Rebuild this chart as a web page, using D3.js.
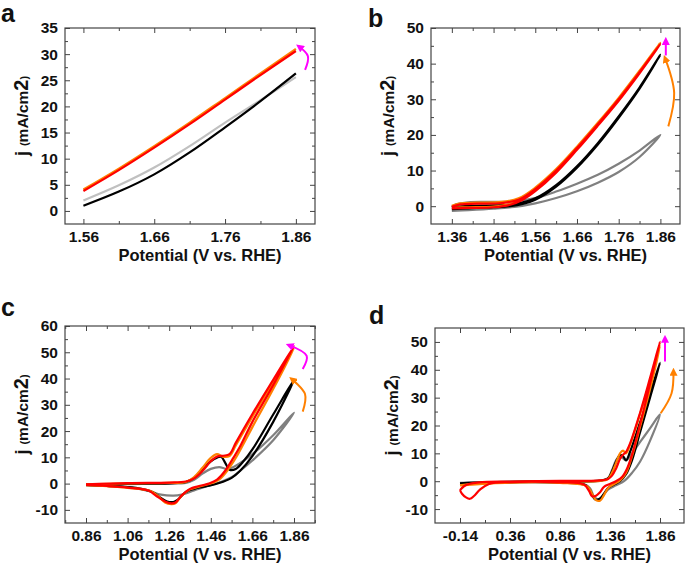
<!DOCTYPE html>
<html>
<head>
<meta charset="utf-8">
<script src="https://cdn.jsdelivr.net/npm/d3@7"></script>
<style>
  body { margin: 0; background: #fff; }
  svg { display: block; }
  text { font-family: "Liberation Sans", Arial, sans-serif; font-weight: bold; fill: #111; }
</style>
</head>
<body>
<svg id="chart"></svg>
<script>
// ---- data (potential V vs. RHE, current density mA/cm2) ----
// panel a
const aXTicks = [1.56, 1.66, 1.76, 1.86];
const aYTicks = [0, 5, 10, 15, 20, 25, 30, 35];
const aGray = [[1.56,2.0],[1.61,4.9],[1.66,8.3],[1.71,12.4],[1.76,16.9],[1.81,21.2],[1.86,25.6]];
const aBlack = [[1.56,1.0],[1.61,3.7],[1.66,7.0],[1.71,11.2],[1.76,16.0],[1.81,21.0],[1.86,26.3]];
const aOrange = [[1.56,4.1],[1.61,8.1],[1.66,12.4],[1.71,16.9],[1.76,21.6],[1.81,26.3],[1.86,31.0]];
const aRed = [[1.56,3.8],[1.61,7.8],[1.66,12.1],[1.71,16.6],[1.76,21.3],[1.81,26.0],[1.86,30.6]];
const aArrows = [{color: "#ff00ff", pts: [[1.873,27],[1.877,29.6],[1.864,31.5]]}];

// panel b
const bXTicks = [1.36, 1.46, 1.56, 1.66, 1.76, 1.86];
const bYTicks = [0, 10, 20, 30, 40, 50];
const bGray = [[1.36,-1.3],[1.40,-1.1],[1.46,-0.7],[1.51,-0.2],[1.56,0.8],[1.61,2.3],[1.66,4.2],[1.71,6.6],[1.76,9.6],[1.81,13.8],[1.86,20.0],
  [1.81,15.6],[1.76,11.9],[1.71,8.8],[1.66,6.3],[1.61,4.1],[1.56,2.3],[1.51,1.4],[1.46,1.2],[1.40,1.1],[1.37,0.5],[1.36,-0.2]];
const bBlack = [[1.36,-0.8],[1.40,-0.6],[1.46,-0.3],[1.50,0],[1.53,0.6],[1.56,1.8],[1.61,5.5],[1.66,10.8],[1.71,17.3],[1.76,24.8],[1.81,33.0],[1.86,42.5],
  [1.81,33.3],[1.76,25.2],[1.71,17.7],[1.66,11.2],[1.61,5.9],[1.56,2.2],[1.51,0.6],[1.46,0.2],[1.40,0.1],[1.36,-0.3]];
const bOrange = [[1.36,-0.4],[1.40,-0.3],[1.46,-0.1],[1.50,0.6],[1.53,2.1],[1.56,4.6],[1.61,9.8],[1.66,16.2],[1.71,23.0],[1.76,30.0],[1.81,37.7],[1.86,45.9],
  [1.81,38.0],[1.76,30.4],[1.71,23.4],[1.66,16.7],[1.61,10.4],[1.56,5.2],[1.52,2.2],[1.48,1.2],[1.42,1.0],[1.38,0.8],[1.36,0.1]];
const bRed = [[1.36,-0.6],[1.40,-0.5],[1.46,-0.3],[1.50,0.4],[1.53,1.8],[1.56,4.2],[1.61,9.4],[1.66,15.8],[1.71,22.6],[1.76,29.6],[1.81,37.3],[1.86,45.5],
  [1.81,37.6],[1.76,30.0],[1.71,23.0],[1.66,16.3],[1.61,10.0],[1.56,4.8],[1.52,1.8],[1.48,0.9],[1.42,0.7],[1.38,0.5],[1.36,-0.2]];
const bArrows = [
  {color: "#ff8000", pts: [[1.879,22.4],[1.893,31.8],[1.871,41.6]]},
  {color: "#ff00ff", pts: [[1.873,42.3],[1.873,44.5],[1.873,46.6]]}
];

// panel c
const cXTicks = [0.86, 1.06, 1.26, 1.46, 1.66, 1.86];
const cYTicks = [-10, 0, 10, 20, 30, 40, 50, 60];
const cGray = [[0.86,-0.4],[1.06,-0.2],[1.26,0],[1.34,0.3],[1.38,1.5],[1.42,3.8],[1.46,5.6],[1.50,6.3],[1.54,5.6],[1.58,6.8],[1.66,11.2],[1.76,18.4],[1.86,27],
  [1.76,16.5],[1.66,8.8],[1.60,4.8],[1.56,2.4],[1.50,0.4],[1.44,-1.0],[1.38,-2.6],[1.32,-4.2],[1.28,-4.6],[1.22,-4.2],[1.16,-2.8],[1.06,-1.4],[0.96,-0.9],[0.86,-0.5]];
const cBlack = [[0.86,-0.3],[1.06,-0.1],[1.26,0.1],[1.34,0.6],[1.38,2.2],[1.42,5.5],[1.46,8.5],[1.49,9.9],[1.51,10.2],[1.53,7.8],[1.55,5.3],[1.58,5.6],[1.62,8.8],[1.66,13.0],[1.76,26.3],[1.86,39.5],
  [1.76,23.5],[1.66,10.5],[1.60,4.8],[1.56,2.2],[1.50,0.2],[1.44,-1.0],[1.38,-2.0],[1.34,-3.2],[1.30,-6.2],[1.28,-7.0],[1.25,-6.8],[1.22,-5.5],[1.18,-3.2],[1.10,-1.6],[0.96,-0.9],[0.86,-0.6]];
const cOrange = [[0.86,-0.3],[1.06,0.1],[1.26,0.3],[1.34,0.6],[1.38,2.5],[1.42,6.0],[1.46,9.8],[1.49,11.2],[1.52,10.2],[1.55,10.5],[1.58,14.5],[1.66,25.5],[1.76,38.5],[1.86,51.5],
  [1.76,36.0],[1.66,21.5],[1.61,14.0],[1.585,10.4],[1.54,5.0],[1.50,1.5],[1.47,0.3],[1.41,-1.0],[1.36,-2.2],[1.32,-4.6],[1.29,-7.5],[1.27,-7.8],[1.24,-7.2],[1.21,-5.0],[1.17,-2.8],[1.06,-1.6],[0.96,-1.0],[0.86,-0.6]];
const cRed = [[0.86,-0.3],[1.06,0.2],[1.26,0.4],[1.34,0.8],[1.38,2.0],[1.42,4.8],[1.46,8.5],[1.49,10.3],[1.52,10.6],[1.55,11.2],[1.58,15.5],[1.66,26.5],[1.76,39.5],[1.86,52.3],
  [1.76,37.5],[1.66,23.5],[1.60,14.0],[1.57,10.0],[1.53,5.0],[1.49,1.5],[1.45,0],[1.40,-1.0],[1.36,-2.0],[1.32,-4.5],[1.29,-7.2],[1.27,-7.5],[1.24,-6.8],[1.20,-4.8],[1.16,-2.6],[1.06,-1.5],[0.96,-0.9],[0.86,-0.5]];
const cArrows = [
  {color: "#ff8000", pts: [[1.902,27.4],[1.913,34.1],[1.849,39.8]]},
  {color: "#ff00ff", pts: [[1.902,43.6],[1.921,48.6],[1.835,52.7]]}
];

// panel d
const dXTicks = [-0.14, 0.36, 0.86, 1.36, 1.86];
const dYTicks = [-10, 0, 10, 20, 30, 40, 50];
const dGray = [[-0.14,-0.6],[0.36,-0.2],[0.86,-0.1],[1.26,0.1],[1.34,1.0],[1.38,4.0],[1.42,7.5],[1.45,8.8],[1.48,8.5],[1.52,7.5],[1.56,9],[1.66,14],[1.76,19],[1.86,24],
  [1.76,14.5],[1.66,7],[1.58,3],[1.50,0],[1.42,-1.5],[1.34,-3],[1.28,-5.5],[1.24,-6.5],[1.20,-5.5],[1.16,-2.5],[1.10,-1],[0.86,-0.4],[0.36,-0.3],[-0.14,-0.6]];
const dBlack = [[-0.14,-0.8],[0.0,-0.5],[0.36,-0.2],[0.86,0],[1.26,0.2],[1.34,1.0],[1.38,3.5],[1.42,7.0],[1.46,9.3],[1.49,9.0],[1.52,7.5],[1.56,10.5],[1.66,21],[1.76,31.5],[1.86,42.5],
  [1.76,30],[1.66,17.5],[1.58,7.5],[1.52,2.5],[1.46,0],[1.40,-1.2],[1.34,-2.5],[1.30,-4.5],[1.26,-6.3],[1.21,-6.5],[1.17,-4],[1.12,-1.5],[0.86,-0.5],[0.36,-0.4],[-0.14,-0.8]];
const dOrange = [[-0.14,-1.5],[0.0,-0.9],[0.36,-0.3],[0.86,-0.1],[1.26,0.1],[1.34,0.8],[1.38,3.0],[1.42,6.5],[1.46,10.0],[1.49,11.0],[1.52,10.0],[1.56,13],[1.66,24],[1.76,36],[1.86,48.5],
  [1.76,33],[1.66,19.5],[1.58,9],[1.52,3],[1.46,0.3],[1.40,-1],[1.34,-2.5],[1.30,-5],[1.26,-7],[1.22,-6.8],[1.18,-4.5],[1.13,-1.8],[0.86,-0.6],[0.36,-0.5],[-0.14,-1.5]];
const dRed = [[-0.14,-3.2],[-0.10,-1.8],[-0.05,-1.0],[0.05,-0.4],[0.36,-0.1],[0.86,0.1],[1.26,0.3],[1.34,0.8],[1.38,2.0],[1.42,4.5],[1.46,8.0],[1.49,9.5],[1.52,10.5],[1.56,13.5],[1.66,24.5],[1.76,37],[1.86,50],
  [1.80,41],[1.72,29],[1.64,17.5],[1.58,9.5],[1.53,4.5],[1.48,1.5],[1.42,0],[1.36,-1],[1.30,-2],[1.26,-4],[1.22,-5.2],[1.18,-5.4],[1.15,-3.5],[1.10,-1.2],[0.86,-0.4],[0.36,-0.3],[0.15,-1.0],[0.06,-3.0],[0.0,-5.3],[-0.04,-6.3],[-0.08,-5.8],[-0.12,-4.5],[-0.14,-3.2]];
const dArrows = [
  {color: "#ff8000", pts: [[1.867,24.4],[1.975,31.5],[1.995,39.6]]},
  {color: "#ff00ff", pts: [[1.91,43.0],[1.91,47.0],[1.91,51.4]]}
];

// ---- layout ----
const W = 685, H = 568;
const panels = [
  {label: "a", left: 65, right: 315, top: 28, bottom: 224, lx: 1, ly: 22, xd: [1.534, 1.887], yd: [-2.5, 35],
   xt: aXTicks, yt: aYTicks, gray: "#c0c0c0", series: [aGray, aBlack, aOrange, aRed], arrows: aArrows},
  {label: "b", left: 431, right: 680, top: 28, bottom: 224, lx: 368, ly: 27, xd: [1.31, 1.907], yd: [-5, 50],
   xt: bXTicks, yt: bYTicks, gray: "#808080", series: [bGray, bBlack, bOrange, bRed], arrows: bArrows},
  {label: "c", left: 65, right: 315, top: 326, bottom: 523, lx: 1, ly: 316, xd: [0.759, 1.961], yd: [-15, 60],
   xt: cXTicks, yt: cYTicks, gray: "#808080", series: [cGray, cBlack, cOrange, cRed], arrows: cArrows},
  {label: "d", left: 435, right: 684, top: 328, bottom: 523, lx: 369, ly: 324, xd: [-0.39, 2.10], yd: [-15, 55],
   xt: dXTicks, yt: dYTicks, gray: "#808080", series: [dGray, dBlack, dOrange, dRed], arrows: dArrows}
];
const lineColors = [null, "#000000", "#ff8000", "#ff0000"];

const svg = d3.select("#chart").attr("width", W).attr("height", H);

// arrow heads
const defs = svg.append("defs");
["#ff8000", "#ff00ff"].forEach(function(c) {
  defs.append("marker")
    .attr("id", "head" + c.slice(1))
    .attr("viewBox", "0 0 10 10")
    .attr("refX", 6).attr("refY", 5)
    .attr("markerWidth", 8).attr("markerHeight", 8)
    .attr("markerUnits", "userSpaceOnUse")
    .attr("orient", "auto")
    .append("path").attr("d", "M0,0 L10,5 L0,10 z").attr("fill", c);
});

function midpoints(t) {
  const step = t[1] - t[0];
  const out = [];
  for (let i = -1; i < t.length; i++) out.push(t[0] + step * (i + 0.5));
  return out;
}

// plain hyphen for negatives, like the original figure
const fmtX = v => d3.format(".2f")(v).replace("\u2212", "-");
const fmtY = v => d3.format("d")(v).replace("\u2212", "-");

panels.forEach(function(p) {
  const x = d3.scaleLinear().domain(p.xd).range([p.left, p.right]);
  const y = d3.scaleLinear().domain(p.yd).range([p.bottom, p.top]);
  const g = svg.append("g");

  const xMinor = midpoints(p.xt).filter(v => v > p.xd[0] && v < p.xd[1]);
  const yMinor = midpoints(p.yt).filter(v => v > p.yd[0] && v < p.yd[1]);

  // bottom + left with labels, top + right mirrored, all ticks inward
  const axes = [
    {ax: d3.axisBottom(x).tickValues(p.xt).tickFormat(fmtX), tr: "translate(0," + p.bottom + ")", lab: true},
    {ax: d3.axisBottom(x).tickValues(xMinor).tickFormat(""), tr: "translate(0," + p.bottom + ")", minor: true},
    {ax: d3.axisTop(x).tickValues(p.xt).tickFormat(""), tr: "translate(0," + p.top + ")"},
    {ax: d3.axisTop(x).tickValues(xMinor).tickFormat(""), tr: "translate(0," + p.top + ")", minor: true},
    {ax: d3.axisLeft(y).tickValues(p.yt).tickFormat(fmtY), tr: "translate(" + p.left + ",0)", lab: true},
    {ax: d3.axisLeft(y).tickValues(yMinor).tickFormat(""), tr: "translate(" + p.left + ",0)", minor: true},
    {ax: d3.axisRight(y).tickValues(p.yt).tickFormat(""), tr: "translate(" + p.right + ",0)"},
    {ax: d3.axisRight(y).tickValues(yMinor).tickFormat(""), tr: "translate(" + p.right + ",0)", minor: true}
  ];
  axes.forEach(function(a) {
    a.ax.tickSizeInner(a.minor ? -3 : -5).tickSizeOuter(0).tickPadding(a.lab ? 7 : 0);
    const ag = g.append("g").attr("transform", a.tr).call(a.ax);
    ag.select(".domain").remove();
    ag.selectAll(".tick line").attr("stroke", "#444").attr("stroke-width", 1);
    ag.selectAll("text")
      .attr("font-size", 15.5)
      .attr("font-family", "'Liberation Sans', Arial, sans-serif")
      .attr("font-weight", "bold")
      .attr("fill", "#111");
  });

  g.append("rect")
    .attr("x", p.left).attr("y", p.top)
    .attr("width", p.right - p.left).attr("height", p.bottom - p.top)
    .attr("fill", "none").attr("stroke", "#444").attr("stroke-width", 1.2);

  const line = d3.line()
    .x(d => x(d[0])).y(d => y(d[1]))
    .curve(d3.curveCatmullRom.alpha(0.5));

  p.series.forEach(function(s, i) {
    g.append("path")
      .attr("d", line(s))
      .attr("fill", "none")
      .attr("stroke", i === 0 ? p.gray : lineColors[i])
      .attr("stroke-width", 2.2)
      .attr("stroke-linejoin", "round");
  });

  p.arrows.forEach(function(a) {
    g.append("path")
      .attr("d", line(a.pts))
      .attr("fill", "none")
      .attr("stroke", a.color)
      .attr("stroke-width", 2)
      .attr("marker-end", "url(#head" + a.color.slice(1) + ")");
  });

  // axis titles
  g.append("text")
    .attr("x", (p.left + p.right) / 2 + 10)
    .attr("y", p.bottom + 37)
    .attr("text-anchor", "middle")
    .attr("font-size", 16.5)
    .text("Potential (V vs. RHE)");

  const yl = g.append("text")
    .attr("transform", "translate(" + (p.left - 37) + "," + ((p.top + p.bottom) / 2 - 10) + ") rotate(-90)")
    .attr("text-anchor", "middle");
  yl.append("tspan").attr("font-size", 18).text("j ");
  yl.append("tspan").attr("font-size", 11).text("(");
  yl.append("tspan").attr("font-size", 15.5).text("mA/cm");
  yl.append("tspan").attr("font-size", 20).text("2");
  yl.append("tspan").attr("font-size", 11).text(")");

  g.append("text")
    .attr("x", p.lx).attr("y", p.ly)
    .attr("font-size", 25)
    .text(p.label);
});
</script>
</body>
</html>
